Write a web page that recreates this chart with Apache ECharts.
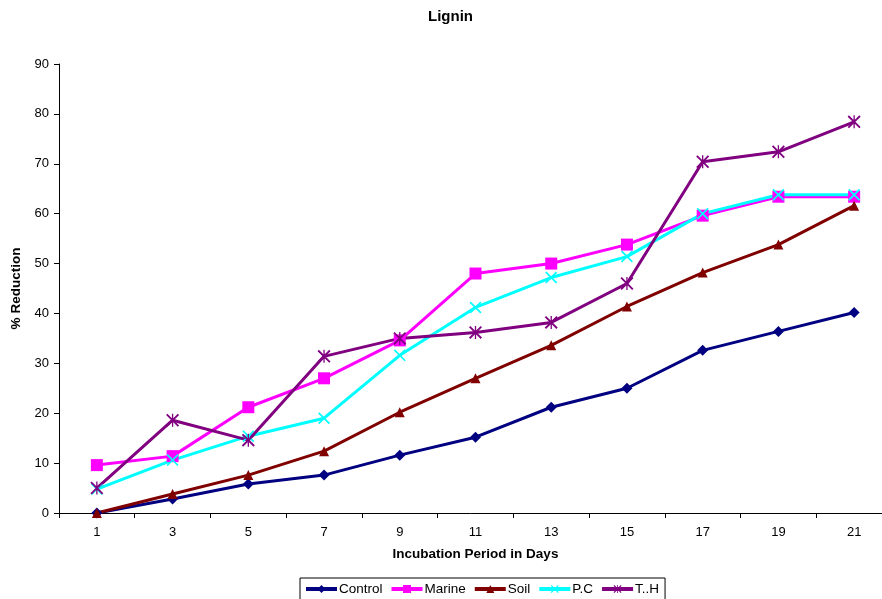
<!DOCTYPE html>
<html>
<head>
<meta charset="utf-8">
<script src="https://cdn.jsdelivr.net/npm/echarts@6/dist/echarts.min.js"></script>
<style>html,body{margin:0;padding:0;background:#fff;overflow:hidden}#chart{width:882px;height:599px}</style>
</head>
<body>
<div id="chart"></div>
<script>
// 数据
const days = ['1','3','5','7','9','11','13','15','17','19','21'];
const control = [0, 2.8, 5.8, 7.6, 11.6, 15.2, 21.2, 25, 32.6, 36.4, 40.2];
const marine = [9.6, 11.4, 21.2, 27, 34.6, 48, 50, 53.8, 59.6, 63.4, 63.4];
const soil = [0, 3.8, 7.6, 12.4, 20.2, 27, 33.6, 41.4, 48.2, 53.8, 61.6];
const pc = [4.8, 10.6, 15.4, 19, 31.6, 41.2, 47.2, 51.4, 60, 63.8, 63.8];
const th = [5, 18.6, 14.6, 31.4, 35, 36.2, 38.2, 46, 70.4, 72.4, 78.4];

const crossPath = 'path://M0,1 L1,0 L10,9 L9,10 Z M9,0 L10,1 L1,10 L0,9 Z';
const starPath = 'path://M0,1 L1,0 L10,9 L9,10 Z M9,0 L10,1 L1,10 L0,9 Z M4.5,0 L5.5,0 L5.5,10 L4.5,10 Z';

const chart = echarts.init(document.getElementById('chart'));

function line(name, data, color, symbol, size) {
    return {
        name, type: 'line', data,
        symbol, symbolSize: size,
        lineStyle: {color, width: 3},
        itemStyle: {color},
        emphasis: {disabled: true}
    };
}

const option = {
    animation: false,
    textStyle: {fontFamily: 'Liberation Sans, Arial, sans-serif', color: '#000'},
    title: {
        text: 'Lignin', left: 423, top: 4,
        textStyle: {fontSize: 15, fontWeight: 'bold', color: '#000'}
    },
    legend: {
        bottom: -3, left: 300,
        borderColor: '#000', borderWidth: 1,
        padding: [4, 6, 6, 4],
        itemWidth: 31, itemHeight: 10, itemGap: 7,
        lineStyle: {width: 4},
        textStyle: {fontSize: 13.5, color: '#000', padding: [0, 0, 0, -3]},
        data: ['Control', 'Marine', 'Soil', 'P.C', 'T..H']
    },
    // 绘图区右侧超出画布，与原图一致
    grid: {left: 59, right: -10, top: 64, bottom: 86, outerBoundsMode: 'none'},
    xAxis: {
        type: 'category', data: days, boundaryGap: true,
        name: 'Incubation Period in Days', nameLocation: 'middle', nameGap: 34,
        nameTextStyle: {fontSize: 13.5, fontWeight: 'bold', color: '#000'},
        axisLine: {lineStyle: {color: '#000'}},
        axisTick: {show: true, alignWithLabel: false, length: 5, lineStyle: {color: '#000'}},
        axisLabel: {fontSize: 13, color: '#000', margin: 13}
    },
    yAxis: {
        type: 'value', min: 0, max: 90, interval: 10,
        name: '% Reduction', nameLocation: 'middle', nameGap: 33, nameRotate: 90,
        nameTextStyle: {fontSize: 13.5, fontWeight: 'bold', color: '#000'},
        axisLine: {show: true, lineStyle: {color: '#000'}},
        axisTick: {show: true, length: 5, lineStyle: {color: '#000'}},
        axisLabel: {fontSize: 13, color: '#000', margin: 10},
        splitLine: {show: false}
    },
    series: [
        line('Control', control, '#000080', 'diamond', 11),
        line('Marine', marine, '#FF00FF', 'rect', 12),
        line('Soil', soil, '#800000', 'triangle', 10),
        line('P.C', pc, '#00FFFF', crossPath, 12),
        line('T..H', th, '#800080', starPath, 13)
    ]
};

chart.setOption(option);
</script>
</body>
</html>
